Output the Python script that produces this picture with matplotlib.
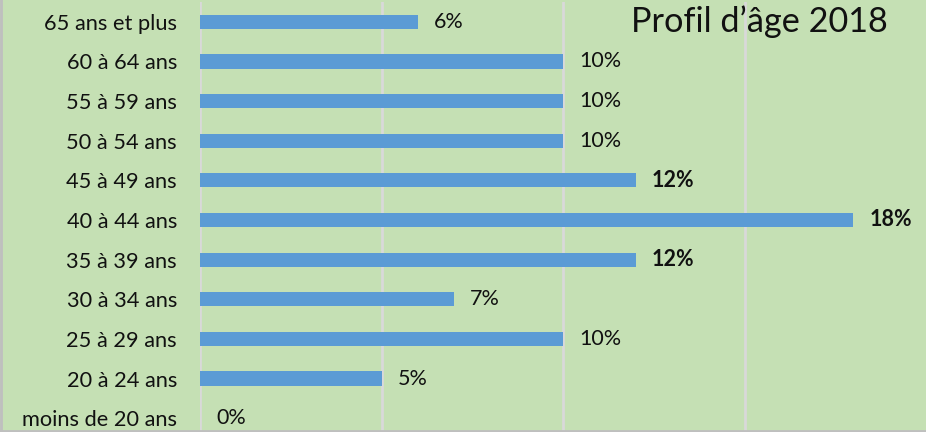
import matplotlib.pyplot as plt
from matplotlib.lines import Line2D

# age groups, bottom to top
tranches = ["moins de 20 ans", "20 à 24 ans", "25 à 29 ans", "30 à 34 ans",
            "35 à 39 ans", "40 à 44 ans", "45 à 49 ans", "50 à 54 ans",
            "55 à 59 ans", "60 à 64 ans", "65 ans et plus"]
parts = [0, 5, 10, 7, 12, 18, 12, 10, 10, 10, 6]
gras = [False, False, False, False, True, True, True, False, False, False, False]

vert = "#C5E0B4"
bleu = "#5B9BD5"
plt.rcParams['font.family'] = ['Lato', 'DejaVu Sans']

fig = plt.figure(figsize=(9.26, 4.32), dpi=100, facecolor=vert)
ax = fig.add_axes([200 / 926, -6 / 432, 726 / 926, 436 / 432])
ax.set_facecolor(vert)

pos = list(range(len(tranches)))
ax.barh(pos, parts, height=0.36, color=bleu, zorder=3)

for y, v, b in zip(pos, parts, gras):
    ax.annotate(f"{v}%", (v, y), xytext=(11.5, 0), textcoords="offset points",
                va="center", ha="left", fontsize=15.5,
                fontweight="bold" if b else "normal", color="#111111")

ax.set_xlim(0, 726 / 36.3)
ax.set_ylim(-0.5, 10.5)
ax.set_xticks([0, 5, 10, 15])
ax.grid(axis="x", color="#D9D9D9", linewidth=2, zorder=0)
ax.tick_params(axis="x", bottom=False, labelbottom=False)
ax.set_yticks(pos)
ax.set_yticklabels(tranches, fontsize=15.7, color="#111111")
ax.tick_params(axis="y", length=0, pad=16.5)
for s in ax.spines.values():
    s.set_visible(False)

fig.text(888 / 926, 1 - 22 / 432, "Profil d\u2019âge 2018", ha="right",
         va="center", fontsize=24.7, color="#111111")

# thin grey frame on the left and bottom edges
fig.add_artist(Line2D([0.001, 0.001], [0, 1], transform=fig.transFigure,
                      color="#BFBFBF", linewidth=2))
fig.add_artist(Line2D([0, 1], [0.003, 0.003], transform=fig.transFigure,
                      color="#BFBFBF", linewidth=2))

fig.savefig("out.png", dpi=100, facecolor=vert)
